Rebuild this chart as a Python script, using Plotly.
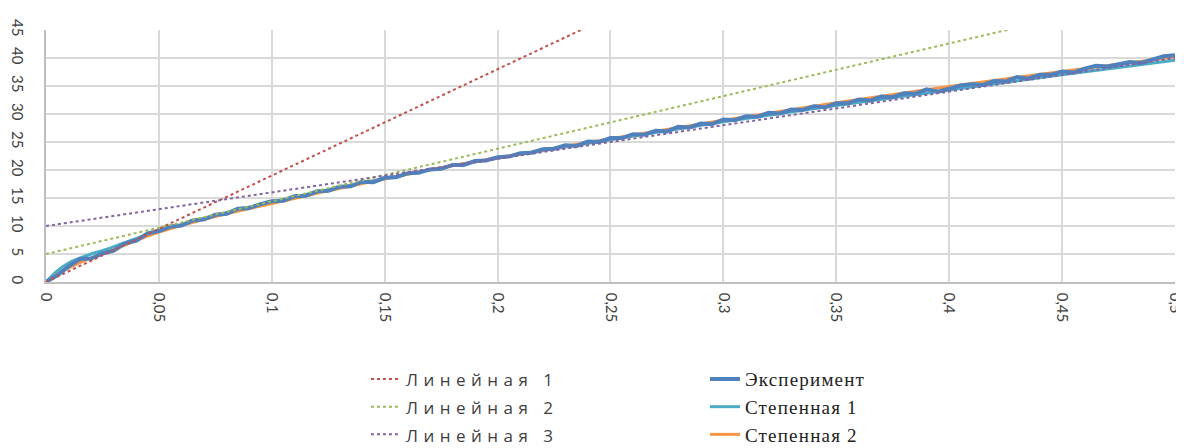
import plotly.graph_objects as go

# ---- data ----
exp_x = [0.000, 0.005, 0.010, 0.015, 0.020, 0.025, 0.030, 0.035, 0.040, 0.045,
         0.050, 0.055, 0.060, 0.065, 0.070, 0.075, 0.080, 0.085, 0.090, 0.095,
         0.100, 0.105, 0.110, 0.115, 0.120, 0.125, 0.130, 0.135, 0.140, 0.145,
         0.150, 0.155, 0.160, 0.165, 0.170, 0.175, 0.180, 0.185, 0.190, 0.195,
         0.200, 0.205, 0.210, 0.215, 0.220, 0.225, 0.230, 0.235, 0.240, 0.245,
         0.250, 0.255, 0.260, 0.265, 0.270, 0.275, 0.280, 0.285, 0.290, 0.295,
         0.300, 0.305, 0.310, 0.315, 0.320, 0.325, 0.330, 0.335, 0.340, 0.345,
         0.350, 0.355, 0.360, 0.365, 0.370, 0.375, 0.380, 0.385, 0.390, 0.395,
         0.400, 0.405, 0.410, 0.415, 0.420, 0.425, 0.430, 0.435, 0.440, 0.445,
         0.450, 0.455, 0.460, 0.465, 0.470, 0.475, 0.480, 0.485, 0.490, 0.495,
         0.500]
exp_y = [0.0, 1.2, 2.8, 4.1, 4.2, 5.1, 5.6, 6.9, 7.4, 8.7,
         9.1, 9.9, 10.1, 11.0, 11.2, 12.0, 12.2, 13.1, 13.2, 13.9,
         14.4, 14.5, 15.3, 15.4, 16.2, 16.3, 17.0, 17.1, 17.9, 17.8,
         18.6, 18.7, 19.4, 19.5, 20.1, 20.2, 20.9, 20.9, 21.6, 21.7,
         22.3, 22.4, 23.0, 23.1, 23.7, 23.8, 24.4, 24.3, 25.1, 25.0,
         25.7, 25.7, 26.4, 26.3, 27.0, 26.9, 27.7, 27.6, 28.3, 28.2,
         29.0, 28.9, 29.6, 29.5, 30.2, 30.1, 30.8, 30.7, 31.4, 31.2,
         31.9, 31.9, 32.6, 32.4, 33.1, 33.0, 33.7, 33.6, 34.4, 34.0,
         34.5, 35.1, 35.3, 35.2, 35.9, 35.8, 36.6, 36.3, 37.0, 37.0,
         37.6, 37.4, 38.1, 38.6, 38.5, 38.9, 39.3, 39.1, 39.7, 40.3,
         40.5]

pow_x = [0.0, 0.005, 0.01, 0.02, 0.025, 0.03, 0.04, 0.05, 0.075, 0.1, 0.125,
         0.15, 0.175, 0.2, 0.25, 0.3, 0.35, 0.4, 0.45, 0.5]
pow1_y = [0.0, 2.0, 3.4, 5.0, 5.6, 6.3, 7.8, 9.1, 11.9, 14.3, 16.5,
          18.5, 20.4, 22.1, 25.4, 28.6, 31.5, 34.3, 37.0, 39.6]
pow2_y = [0.0, 1.4, 2.5, 4.3, 5.0, 5.8, 7.4, 8.9, 11.7, 14.0, 16.3,
          18.4, 20.4, 22.2, 25.6, 28.9, 32.0, 34.9, 37.6, 40.2]

lin_x = [0.0, 0.5]
lin1_y = [0.0, 95.0]
lin2_y = [5.0, 52.0]
lin3_y = [10.0, 40.0]

x_ticks = [0, 0.05, 0.1, 0.15, 0.2, 0.25, 0.3, 0.35, 0.4, 0.45, 0.5]
x_labels = ["0", "0,05", "0,1", "0,15", "0,2", "0,25", "0,3", "0,35", "0,4", "0,45", "0,5"]
y_ticks = [0, 5, 10, 15, 20, 25, 30, 35, 40, 45]

names_lin = ["Линейная 1", "Линейная 2", "Линейная 3"]
names_curve = ["Эксперимент", "Степенная 1", "Степенная 2"]

# ---- figure ----
fig = go.Figure()

curve_rank = [1, 2, 3]
fig.add_trace(go.Scatter(x=pow_x, y=pow1_y, mode="lines",
                         name='<span style="letter-spacing:1.2px">' + names_curve[1] + '</span>',
                         line=dict(color="#4BACC6", width=3, shape="spline"),
                         legend="legend2", legendrank=curve_rank[1]))
fig.add_trace(go.Scatter(x=pow_x, y=pow2_y, mode="lines",
                         name='<span style="letter-spacing:1.2px">' + names_curve[2] + '</span>',
                         line=dict(color="#F79646", width=3, shape="spline"),
                         legend="legend2", legendrank=curve_rank[2]))
fig.add_trace(go.Scatter(x=exp_x, y=exp_y, mode="lines",
                         name='<span style="letter-spacing:1.2px">' + names_curve[0] + '</span>',
                         line=dict(color="#4F81BD", width=4),
                         legend="legend2", legendrank=curve_rank[0]))

lin_colors = ["#C0504D", "#9BBB59", "#8064A2"]
for nm, ys, c in zip(names_lin, [lin1_y, lin2_y, lin3_y], lin_colors):
    fig.add_trace(go.Scatter(x=lin_x, y=ys, mode="lines",
                             name='<span style="letter-spacing:5.5px;font-size:17px">' + nm + '</span>',
                             line=dict(color=c, width=2, dash="dot"),
                             legend="legend"))

grid = "#D9D9D9"
tickfont = dict(family="Lato, Liberation Sans, sans-serif", size=15, color="#404040")
# the page body has an 8px default margin, so the figure is offset by 8px
fig.update_layout(
    width=1180, height=440,
    margin=dict(l=38, r=13, t=22, b=166, autoexpand=False),
    paper_bgcolor="white", plot_bgcolor="white",
    font=dict(family="Lato, Liberation Sans, sans-serif", size=14, color="#404040"),
    xaxis=dict(range=[0, 0.50001], tickvals=x_ticks, ticktext=x_labels, tickangle=90,
               showgrid=True, gridcolor=grid, gridwidth=2, zeroline=False,
               showline=True, linecolor="#BFBFBF", linewidth=1.5, ticks="",
               automargin=False, ticklabelstandoff=6, ticklabeloverflow="allow",
               tickfont=tickfont),
    yaxis=dict(range=[0, 45.001], tickvals=y_ticks, tickangle=90,
               showgrid=True, gridcolor=grid, gridwidth=2, zeroline=False,
               showline=True, linecolor="#BFBFBF", linewidth=1.5, ticks="",
               automargin=False, ticklabelstandoff=14, ticklabeloverflow="allow",
               tickfont=tickfont),
    legend=dict(x=0.2834, y=-0.31, xanchor="left", yanchor="top",
                orientation="v", bgcolor="rgba(0,0,0,0)", tracegroupgap=0,
                font=dict(family="Open Sans, DejaVu Sans, sans-serif", size=19, color="#404040")),
    legend2=dict(x=0.5837, y=-0.31, xanchor="left", yanchor="top",
                 orientation="v", bgcolor="rgba(0,0,0,0)", tracegroupgap=0,
                 traceorder="normal",
                 font=dict(family="Liberation Serif, serif", size=19, color="#222222")),
    showlegend=True,
)

fig.write_html("out.html")
